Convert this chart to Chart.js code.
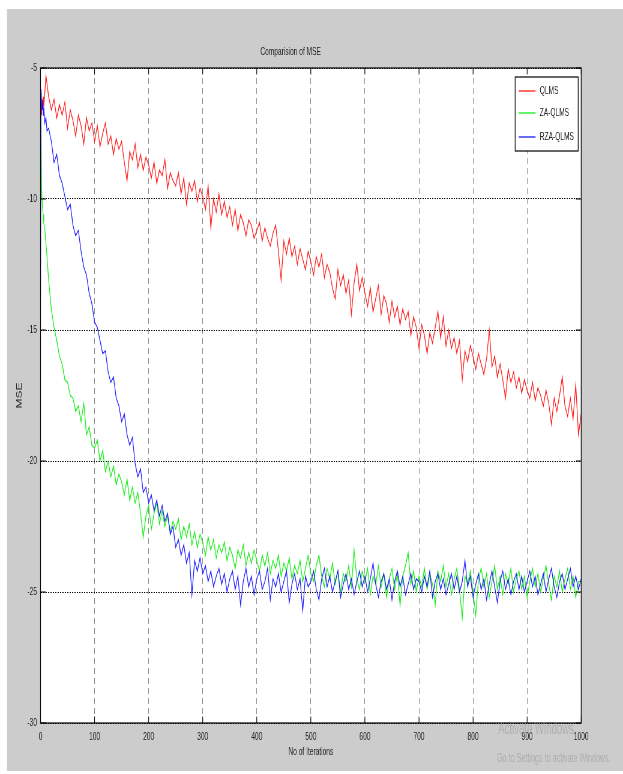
<!DOCTYPE html>
<html><head><meta charset="utf-8">
<script src="https://cdn.jsdelivr.net/npm/chart.js@4.4.0/dist/chart.umd.min.js"></script>
<style>
html,body{margin:0;padding:0;background:#fff;overflow:hidden;width:623px;height:774px;}
#wrap{position:absolute;left:0;top:0;width:1038px;height:774px;transform:scaleX(0.600193);transform-origin:0 0;}
canvas{display:block;}
</style></head><body>
<div id="wrap"><canvas id="c" width="1038" height="774" style="width:1038px;height:774px"></canvas></div>
<script>
// ---- data ----
const iterations = [0,1,2,3,4,5,6,8,10,12,15,
 20,25,30,35,40,45,50,55,60,65, 70,75,80,85,90,95,100,105,110,115,
 120,125,130,135,140,145,150,155,160,165, 170,175,180,185,190,195,200,205,210,215,
 220,225,230,235,240,245,250,255,260,265, 270,275,280,285,290,295,300,305,310,315,
 320,325,330,335,340,345,350,355,360,365, 370,375,380,385,390,395,400,405,410,415,
 420,425,430,435,440,445,450,455,460,465, 470,475,480,485,490,495,500,505,510,515,
 520,525,530,535,540,545,550,555,560,565, 570,575,580,585,590,595,600,605,610,615,
 620,625,630,635,640,645,650,655,660,665, 670,675,680,685,690,695,700,705,710,715,
 720,725,730,735,740,745,750,755,760,765, 770,775,780,785,790,795,800,805,810,815,
 820,825,830,835,840,845,850,855,860,865, 870,875,880,885,890,895,900,905,910,915,
 920,925,930,935,940,945,950,955,960,965, 970,975,980,985,990,995,1000];

const qlms = [-7.0,-6.4,-6.8,-6.2,-6.6,-6.1,-6.5,-5.9,-5.3,-5.6,-6.1,
 -6.6,-6.2,-6.9,-6.4,-6.8,-6.3,-7.3,-6.6,-7.0,-7.6,
 -6.8,-7.2,-7.9,-6.9,-7.4,-7.1,-7.8,-7.2,-8.0,-7.5,
 -7.1,-7.9,-7.6,-8.3,-7.7,-8.1,-7.8,-8.6,-9.3,-8.2,
 -8.5,-7.9,-8.8,-8.3,-8.9,-8.4,-8.7,-9.2,-8.6,-9.4,
 -8.9,-9.1,-8.5,-9.6,-9.0,-9.3,-9.5,-9.0,-9.8,-9.2,
 -10.2,-9.4,-9.7,-9.3,-10.1,-9.6,-9.9,-10.4,-9.5,-11.1,
 -10.0,-10.5,-9.8,-10.6,-10.1,-10.7,-10.3,-11.0,-10.4,-11.2,
 -10.6,-10.9,-11.4,-10.8,-11.0,-11.5,-11.2,-10.9,-11.6,-11.1,
 -11.5,-11.8,-11.3,-11.0,-12.0,-13.1,-11.6,-12.1,-11.5,-12.2,
 -11.8,-12.5,-11.9,-12.3,-12.7,-12.0,-12.4,-12.9,-12.2,-12.6,
 -12.1,-13.0,-12.5,-12.8,-13.4,-13.8,-12.7,-13.3,-12.9,-13.6,
 -13.1,-14.4,-13.2,-12.5,-13.5,-13.0,-13.6,-14.1,-13.4,-14.3,
 -13.8,-13.3,-14.4,-13.7,-14.0,-14.7,-13.9,-14.5,-14.1,-14.8,
 -14.2,-14.6,-14.3,-15.2,-14.5,-14.9,-15.7,-14.8,-15.2,-15.9,
 -15.1,-15.5,-14.9,-14.3,-15.3,-14.5,-15.6,-15.0,-15.7,-15.3,
 -15.9,-15.4,-16.9,-15.8,-16.2,-15.6,-16.0,-16.5,-15.9,-16.3,
 -16.7,-16.1,-15.0,-16.4,-16.0,-16.8,-16.3,-16.9,-17.6,-16.5,
 -17.0,-16.6,-17.2,-16.8,-17.4,-16.9,-17.3,-17.6,-17.0,-17.7,
 -17.2,-17.5,-17.9,-17.3,-17.8,-18.6,-17.6,-18.1,-17.5,-16.8,
 -17.9,-18.3,-17.6,-18.4,-17.1,-19.0,-18.2];

const zaQlms = [-6.5,-7.8,-9.6,-10.1,-10.4,-10.6,-10.9,-11.2,-11.7,-12.2,-13.1,
 -14.2,-14.9,-15.4,-16.0,-16.3,-16.9,-17.0,-17.5,-17.6,-18.1,
 -17.9,-18.5,-17.8,-19.0,-18.7,-19.4,-19.5,-19.2,-20.0,-19.6,
 -20.4,-20.0,-20.6,-20.2,-20.9,-20.5,-20.8,-21.3,-20.7,-21.5,
 -21.0,-21.6,-21.2,-22.0,-22.9,-22.1,-21.7,-22.6,-22.0,-21.6,
 -22.4,-21.9,-22.5,-22.1,-22.7,-22.3,-22.6,-22.2,-23.0,-22.5,
 -22.9,-22.4,-23.2,-22.7,-23.3,-22.8,-23.1,-23.6,-22.9,-23.4,
 -23.0,-23.7,-23.2,-23.5,-23.1,-23.8,-23.3,-23.6,-24.1,-23.4,
 -23.7,-23.2,-24.0,-23.5,-23.9,-23.4,-23.8,-24.2,-23.6,-24.0,
 -23.5,-24.3,-23.8,-24.1,-23.6,-24.4,-23.9,-24.2,-23.7,-24.5,
 -24.0,-24.3,-23.8,-24.6,-24.1,-23.6,-24.3,-24.6,-24.0,-23.6,
 -24.4,-24.8,-24.1,-24.5,-23.9,-24.7,-24.2,-25.0,-24.3,-24.6,
 -24.0,-24.8,-23.4,-24.5,-24.9,-24.2,-24.6,-24.1,-25.1,-24.4,
 -24.7,-24.0,-24.8,-24.3,-25.2,-24.5,-24.1,-24.9,-24.3,-25.5,
 -24.4,-24.0,-23.5,-24.7,-24.2,-25.0,-24.4,-24.8,-24.1,-24.9,
 -24.3,-24.7,-25.5,-24.2,-24.6,-24.0,-24.8,-24.3,-25.1,-24.5,
 -24.1,-24.9,-26.0,-24.4,-24.7,-24.2,-25.0,-25.9,-24.5,-24.1,
 -24.8,-24.3,-25.2,-24.6,-24.0,-24.9,-24.4,-25.1,-24.3,-24.7,
 -24.1,-25.0,-24.5,-24.2,-24.9,-24.4,-25.2,-24.6,-24.1,-24.8,
 -24.3,-25.0,-24.5,-24.0,-24.7,-25.3,-24.4,-24.8,-24.2,-25.0,
 -24.5,-24.1,-24.9,-24.4,-25.2,-24.6,-24.6];

const rzaQlms = [-13.8,-5.8,-6.3,-6.6,-6.2,-6.8,-6.5,-7.1,-6.9,-7.4,-7.3,
 -7.8,-8.6,-8.3,-9.1,-9.4,-9.9,-10.4,-10.2,-11.0,-11.4,
 -11.2,-12.0,-12.6,-12.9,-13.6,-14.0,-14.7,-14.9,-15.4,-15.9,
 -15.8,-16.6,-17.0,-16.8,-17.6,-17.9,-18.5,-18.2,-19.0,-19.4,
 -19.1,-20.1,-20.6,-20.3,-21.2,-21.0,-21.6,-21.3,-21.9,-21.5,
 -22.1,-21.7,-22.3,-22.0,-22.8,-22.5,-23.3,-23.0,-23.6,-23.2,
 -23.9,-23.5,-25.1,-23.8,-24.2,-23.7,-24.3,-24.0,-24.6,-24.2,
 -24.8,-24.4,-24.1,-24.7,-24.3,-25.0,-24.5,-24.2,-24.9,-24.4,
 -25.5,-24.6,-24.1,-24.8,-24.4,-25.1,-24.5,-24.2,-24.9,-24.6,
 -24.1,-25.3,-24.5,-24.8,-24.3,-25.0,-24.6,-24.2,-25.4,-24.7,
 -24.3,-24.9,-24.5,-25.7,-24.4,-24.8,-24.6,-24.2,-24.9,-25.3,
 -24.5,-24.1,-24.8,-24.4,-25.0,-24.6,-24.2,-25.2,-24.7,-24.3,
 -24.9,-24.5,-25.1,-24.6,-24.2,-24.8,-24.4,-25.0,-24.5,-23.9,
 -24.7,-25.2,-24.6,-24.3,-24.9,-24.5,-25.3,-24.6,-24.2,-24.8,
 -24.4,-25.1,-24.7,-24.3,-24.9,-24.5,-24.6,-25.0,-24.4,-24.8,
 -24.2,-25.2,-24.6,-24.3,-24.9,-24.5,-25.1,-24.7,-24.3,-24.9,
 -24.4,-25.0,-24.6,-23.8,-24.8,-24.4,-25.2,-24.7,-24.3,-24.9,
 -24.5,-25.3,-24.7,-24.2,-24.8,-25.4,-24.6,-24.2,-24.9,-24.5,
 -25.1,-24.6,-24.3,-24.9,-24.4,-25.0,-24.6,-24.2,-24.8,-24.4,
 -25.1,-24.7,-24.3,-25.0,-24.5,-24.1,-24.8,-25.2,-24.6,-24.3,
 -24.9,-24.5,-24.1,-24.8,-24.4,-24.9,-24.5];

const seriesNames = ['QLMS', 'ZA-QLMS', 'RZA-QLMS'];
const seriesColors = ['#ff1a1a', '#11ee11', '#1a1aff'];
const xTickValues = [0,100,200,300,400,500,600,700,800,900,1000];
const yTickValues = [-30,-25,-20,-15,-10,-5];
const chartTitle = 'Comparision of MSE';
const xTitle = 'No of Iterations';
const yTitle = 'MSE';
const watermark = ['Activate Windows', 'Go to Settings to activate Windows.'];

// ---- chart ----
const FONT = "'Liberation Sans', Arial, Helvetica, sans-serif";
const seriesValues = [qlms, zaQlms, rzaQlms];
const datasets = seriesValues.map((vals, k) => ({
  label: seriesNames[k],
  data: iterations.map((it, i) => ({x: it, y: vals[i]})),
  borderColor: seriesColors[k],
  borderWidth: 1.2,
  pointRadius: 0,
  fill: false,
  tension: 0,
  order: 2 - k
}));

const framePlugin = {
  id: 'frame',
  beforeDraw(chart) {
    const {ctx, chartArea: a, width, height} = chart;
    ctx.save();
    ctx.fillStyle = '#ffffff';
    ctx.fillRect(0, 0, width, height);
    ctx.fillStyle = '#cccccc';
    ctx.fillRect(11.7, 9, width - 11.7, height - 12);
    ctx.fillStyle = '#ffffff';
    ctx.fillRect(a.left, a.top, a.right - a.left, a.bottom - a.top);
    ctx.restore();
  },
  afterDatasetsDraw(chart) {
    const {ctx, chartArea: a, scales} = chart;
    ctx.save();
    ctx.strokeStyle = '#000';
    ctx.lineWidth = 1;
    ctx.beginPath();
    xTickValues.forEach(v => {
      const px = scales.x.getPixelForValue(v);
      ctx.moveTo(px, a.bottom); ctx.lineTo(px, a.bottom - 6.5);
      ctx.moveTo(px, a.top); ctx.lineTo(px, a.top + 6.5);
    });
    yTickValues.forEach(v => {
      const py = scales.y.getPixelForValue(v);
      ctx.moveTo(a.left, py); ctx.lineTo(a.left + 9, py);
      ctx.moveTo(a.right, py); ctx.lineTo(a.right - 9, py);
    });
    ctx.stroke();
    ctx.strokeStyle = '#000';
    ctx.lineWidth = 1.2;
    ctx.strokeRect(a.left, a.top, a.right - a.left, a.bottom - a.top);
    // legend
    const bw = 105, bh = 74;
    const bx = a.right - 5 - bw, by = a.top + 9;
    ctx.fillStyle = '#ffffff';
    ctx.fillRect(bx, by, bw, bh);
    ctx.lineWidth = 1.2;
    ctx.strokeRect(bx, by, bw, bh);
    ctx.font = '11px ' + FONT;
    ctx.textBaseline = 'middle';
    ctx.textAlign = 'left';
    const rows = [14, 36, 60];
    chart.data.datasets.forEach((ds, k) => {
      const y = by + rows[k];
      ctx.strokeStyle = ds.borderColor;
      ctx.lineWidth = 1.3;
      ctx.beginPath();
      ctx.moveTo(bx + 6, y); ctx.lineTo(bx + 34, y);
      ctx.stroke();
      ctx.fillStyle = '#222';
      ctx.fillText(ds.label, bx + 41, y);
    });
    ctx.restore();
  },
  afterDraw(chart) {
    const {ctx} = chart;
    ctx.save();
    ctx.fillStyle = 'rgba(150,150,150,0.55)';
    ctx.textAlign = 'left';
    ctx.textBaseline = 'middle';
    ctx.font = '16px ' + FONT;
    ctx.fillText(watermark[0], 830, 730);
    ctx.font = '12px ' + FONT;
    ctx.fillText(watermark[1], 828, 759);
    ctx.restore();
  }
};

new Chart(document.getElementById('c'), {
  type: 'line',
  data: {datasets},
  plugins: [framePlugin],
  options: {
    responsive: false,
    animation: false,
    devicePixelRatio: 1,
    layout: {padding: {left: 0, right: 69.7, top: 0, bottom: 0}},
    plugins: {
      legend: {display: false},
      tooltip: {enabled: false},
      title: {
        display: true, text: chartTitle, color: '#222',
        font: {family: FONT, size: 11, weight: 'normal'},
        padding: {top: 45, bottom: 9.8}
      }
    },
    scales: {
      x: {
        type: 'linear', min: 0, max: 1000,
        afterFit(s) { s.height = 51; },
        afterBuildTicks(s) { s.ticks = xTickValues.map(v => ({value: v})); },
        ticks: {color: '#222', font: {family: FONT, size: 11}, padding: 7, maxRotation: 0, autoSkip: false,
                callback: v => String(v)},
        grid: {color: '#8a8a8a', lineWidth: 1, drawTicks: false},
        border: {display: false, dash: [6, 4]},
        title: {display: true, text: xTitle, color: '#222', font: {family: FONT, size: 11}, padding: {top: 0, bottom: 15.4}}
      },
      y: {
        type: 'linear', min: -30, max: -5,
        afterFit(s) { s.width = 67.5; },
        afterBuildTicks(s) { s.ticks = yTickValues.map(v => ({value: v})); },
        ticks: {color: '#222', font: {family: FONT, size: 11}, padding: 6, autoSkip: false,
                callback: v => String(v)},
        grid: {color: '#000', lineWidth: 1, drawTicks: false},
        border: {display: false, dash: [2, 2]},
        title: {display: true, text: yTitle, color: '#222', font: {family: FONT, size: 12}, padding: {top: 25.8, bottom: 0}}
      }
    }
  }
});
</script>
</body></html>
